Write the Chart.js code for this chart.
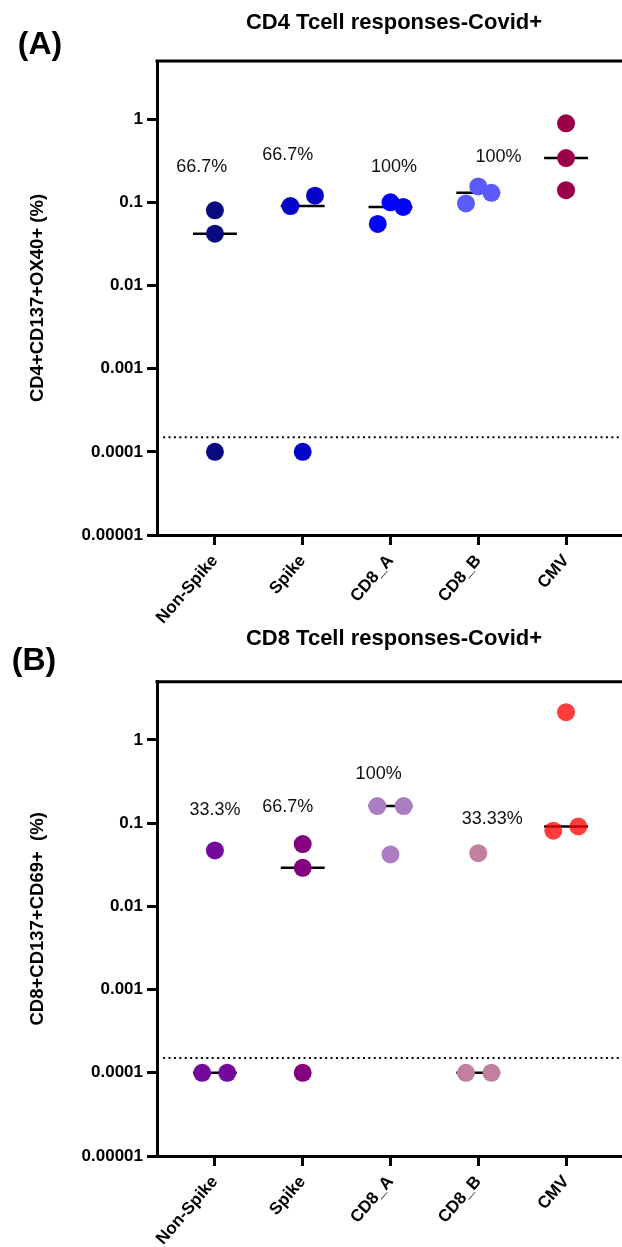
<!DOCTYPE html>
<html>
<head>
<meta charset="utf-8">
<title>CD4 / CD8 Tcell responses</title>
<script src="https://cdn.jsdelivr.net/npm/chart.js@4.4.1/dist/chart.umd.min.js"></script>
<style>
  html, body { margin: 0; padding: 0; background: #fff; }
  #page { position: relative; width: 622px; height: 1247px; overflow: hidden; }
  .panel { position: absolute; left: 0; }
  #chartA { top: 0; }
  #chartB { top: 621px; }
</style>
</head>
<body>
<div id="page">
  <canvas id="chartA" class="panel" width="640" height="640"></canvas>
  <canvas id="chartB" class="panel" width="640" height="626"></canvas>
</div>
<script>
/** ────── DATA ────── */
const categories = ["Non-Spike", "Spike", "CD8_A", "CD8_B", "CMV"];
const yTicks = [0.00001, 0.0001, 0.001, 0.01, 0.1, 1];
const yTickLabels = ["0.00001", "0.0001", "0.001", "0.01", "0.1", "1"];
const cutoff = 0.00015;

// (A) CD4+CD137+OX40+ (%)
const cd4Values = [
  [0.080, 0.042, 0.0001],
  [0.090, 0.12, 0.0001],
  [0.10, 0.088, 0.055],
  [0.097, 0.155, 0.13],
  [0.89, 0.34, 0.14],
];
const cd4Jitter = [
  [0, 0, 0],
  [-0.14, 0.14, 0],
  [0, 0.145, -0.145],
  [-0.14, 0, 0.15],
  [0, 0, 0],
];
const cd4PctText = ["66.7%", "66.7%", "100%", "100%"];
const cd4PctY = [0.265, 0.37, 0.265, 0.35];
const cd4PctDx = [-0.15, -0.17, 0.04, 0.23];
const cd4Colors = ["#0a0a80", "#0505c8", "#0303fa", "#5b5bfc", "#990047"];

// (B) CD8+CD137+CD69+ (%)
const cd8Values = [
  [0.047, 0.0001, 0.0001],
  [0.056, 0.029, 0.0001],
  [0.16, 0.16, 0.042],
  [0.0435, 0.0001, 0.0001],
  [2.15, 0.081, 0.091],
];
const cd8Jitter = [
  [0, -0.145, 0.14],
  [0, 0, 0],
  [-0.15, 0.15, 0],
  [0, -0.14, 0.15],
  [0, -0.145, 0.14],
];
const cd8PctText = ["33.3%", "66.7%", "100%", "33.33%"];
const cd8PctY = [0.144, 0.158, 0.39, 0.112];
const cd8PctDx = [0, -0.17, -0.135, 0.16];
const cd8Colors = ["#730a9c", "#850080", "#ab7dc3", "#c27f9f", "rgba(255,0,0,0.76)"];

/** ────── HELPERS ────── */
const X_MIN = -0.66;
const X_MAX = 4.74;
const FONT = "Arial, 'Liberation Sans', Helvetica, sans-serif";

function median(arr) {
  const s = [...arr].sort((a, b) => a - b);
  const m = Math.floor(s.length / 2);
  return s.length % 2 ? s[m] : (s[m - 1] + s[m]) / 2;
}

function buildDatasets(values, jitter, colors) {
  const sets = [];
  values.forEach((vals, i) => {
    sets.push({
      type: "scatter",
      data: vals.map((v, j) => ({ x: i + jitter[i][j], y: v })),
      pointRadius: 9,
      pointHoverRadius: 9,
      pointBorderWidth: 0,
      backgroundColor: colors[i],
      order: 1,
    });
    const med = median(vals);
    sets.push({
      type: "line",
      data: [{ x: i - 0.25, y: med }, { x: i + 0.25, y: med }],
      borderColor: "#000",
      borderWidth: 2.5,
      pointRadius: 0,
      order: 2,
    });
  });
  // detection limit
  sets.push({
    type: "line",
    data: [{ x: -0.59, y: cutoff }, { x: X_MAX, y: cutoff }],
    borderColor: "#000",
    borderWidth: 2,
    borderDash: [2, 3.4],
    pointRadius: 0,
    order: 3,
  });
  return sets;
}

// frame top, panel letter and % labels
const decorPlugin = {
  id: "decor",
  afterDatasetsDraw(chart, args, opts) {
    const { ctx, chartArea, scales } = chart;
    ctx.save();
    ctx.strokeStyle = "#000";
    ctx.lineWidth = 3;
    ctx.beginPath();
    ctx.moveTo(chartArea.left - 1.5, chartArea.top);
    ctx.lineTo(chartArea.right, chartArea.top);
    ctx.stroke();

    ctx.fillStyle = "#111";
    ctx.font = `18px ${FONT}`;
    ctx.textAlign = "center";
    ctx.textBaseline = "middle";
    opts.pctText.forEach((t, i) => {
      const x = scales.x.getPixelForValue(i + opts.pctDx[i]);
      const y = scales.y.getPixelForValue(opts.pctY[i]);
      ctx.fillText(t, x, y);
    });

    ctx.fillStyle = "#000";
    ctx.font = `bold 32px ${FONT}`;
    ctx.fillText(opts.letter, opts.letterX, opts.letterY);
    ctx.restore();
  },
};

/** ────── CHART ────── */
function makePanel(id, cfg) {
  const ctx = document.getElementById(id).getContext("2d");
  return new Chart(ctx, {
    data: { datasets: buildDatasets(cfg.values, cfg.jitter, cfg.colors) },
    plugins: [decorPlugin],
    options: {
      responsive: false,
      animation: false,
      layout: { padding: 0 },
      plugins: {
        legend: { display: false },
        tooltip: { enabled: false },
        title: {
          display: true,
          text: cfg.title,
          fullSize: false,
          color: "#000",
          font: { family: FONT, size: 22, weight: "bold" },
          padding: cfg.titlePad,
        },
        decor: {
          pctText: cfg.pctText,
          pctY: cfg.pctY,
          pctDx: cfg.pctDx,
          letter: cfg.letter,
          letterX: cfg.letterX,
          letterY: cfg.letterY,
        },
      },
      scales: {
        x: {
          type: "linear",
          min: X_MIN,
          max: X_MAX,
          afterBuildTicks: (s) => {
            s.ticks = categories.map((c, i) => ({ value: i }));
          },
          afterFit: (s) => {
            s.height = cfg.xHeight;
          },
          ticks: {
            autoSkip: false,
            minRotation: 49,
            maxRotation: 49,
            padding: 6,
            color: "#000",
            font: { family: FONT, size: 17, weight: "bold" },
            callback: (v, i) => categories[i],
          },
          grid: {
            drawOnChartArea: false,
            drawTicks: true,
            tickLength: 10,
            tickWidth: 3,
            tickColor: "#000",
          },
          border: { display: true, color: "#000", width: 3 },
        },
        y: {
          type: "logarithmic",
          min: 0.00001,
          max: 5,
          afterBuildTicks: (s) => {
            s.ticks = yTicks.map((v) => ({ value: v }));
          },
          afterFit: (s) => {
            s.width = 157;
          },
          ticks: {
            padding: 4,
            color: "#000",
            font: { family: FONT, size: 17, weight: "bold" },
            callback: (v, i) => yTickLabels[i],
          },
          grid: {
            drawOnChartArea: false,
            drawTicks: true,
            tickLength: 10,
            tickWidth: 3,
            tickColor: "#000",
          },
          border: { display: true, color: "#000", width: 3 },
          title: {
            display: true,
            text: cfg.yTitle,
            color: "#000",
            font: { family: FONT, size: 18.5, weight: "bold" },
            padding: { top: 27, bottom: 0 },
          },
        },
      },
    },
  });
}

/** ────── BOOTSTRAP ────── */
makePanel("chartA", {
  title: "CD4 Tcell responses-Covid+",
  yTitle: "CD4+CD137+OX40+ (%)",
  letter: "(A)",
  letterX: 40,
  letterY: 45,
  titlePad: { top: 9.3, bottom: 25.3 },
  xHeight: 105,
  values: cd4Values,
  jitter: cd4Jitter,
  colors: cd4Colors,
  pctText: cd4PctText,
  pctY: cd4PctY,
  pctDx: cd4PctDx,
});

makePanel("chartB", {
  title: "CD8 Tcell responses-Covid+",
  yTitle: "CD8+CD137+CD69+  (%)",
  letter: "(B)",
  letterX: 34,
  letterY: 40,
  titlePad: { top: 4.3, bottom: 30 },
  xHeight: 91,
  values: cd8Values,
  jitter: cd8Jitter,
  colors: cd8Colors,
  pctText: cd8PctText,
  pctY: cd8PctY,
  pctDx: cd8PctDx,
});
</script>
</body>
</html>
